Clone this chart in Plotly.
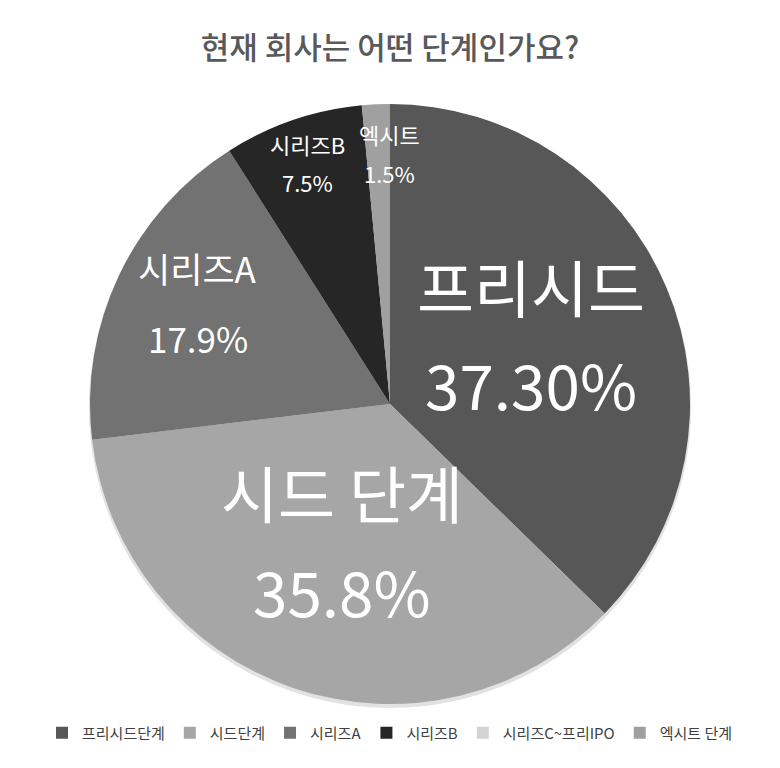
import numpy as np
import plotly.graph_objects as go

# data
legend_names = ["프리시드단계", "시드단계", "시리즈A", "시리즈B", "시리즈C~프리IPO", "엑시트 단계"]
values = [37.3, 35.8, 17.9, 7.5, 0.0, 1.5]
slice_names = ["프리시드", "시드 단계", "시리즈A", "시리즈B", "", "엑시트"]
pct_text = ["37.30%", "35.8%", "17.9%", "7.5%", "", "1.5%"]

colors = ["#575757", "#a6a6a6", "#727272", "#262626", "#d4d4d4", "#a0a0a0"]
label_size = [62, 62, 35, 22, 0, 22]
label_r = [0.51, 0.5, 0.71, 0.85, 0, 0.84]
line_gap = [48.5, 49, 35, 19, 0, 19.5]
label_dx = [0, 0, 0, 0, 0, 11]
label_dy = [-10, -5, -10, 0, 0, 1]

W, H = 780, 768
OFF = 8  # page body margin
cx, cy, R = 390 - OFF, 404 - OFF, 300
FONT = "Noto Sans CJK KR"


def dom(x0, y0, r):
    return dict(x=[(x0 - r) / W, (x0 + r) / W], y=[1 - (y0 + r) / H, 1 - (y0 - r) / H])


# soft shadow under the pie
shadow = go.Pie(values=[1], labels=["shadow"], showlegend=False, sort=False,
                textinfo="none", hoverinfo="skip",
                marker=dict(colors=["#e2e2e2"], line=dict(width=0)),
                domain=dom(cx, cy + 3, R + 1))

pie = go.Pie(
    labels=legend_names,
    values=values,
    sort=False,
    direction="clockwise",
    rotation=0,
    textinfo="none",
    hoverinfo="label+percent",
    marker=dict(colors=colors, line=dict(width=0)),
    domain=dom(cx, cy, R),
)
fig = go.Figure([shadow, pie])

# slice labels at the middle angle of each slice
total = sum(values)
start = 0.0
annotations = []
for i, v in enumerate(values):
    mid = (start + v / 2) / total * 2 * np.pi
    start += v
    if not slice_names[i]:
        continue
    px = cx + label_r[i] * R * np.sin(mid) + label_dx[i]
    py = cy - label_r[i] * R * np.cos(mid) + label_dy[i]
    for txt, shift in [(slice_names[i], line_gap[i]), (pct_text[i], -line_gap[i])]:
        annotations.append(dict(
            x=px / W, y=1 - py / H, xref="paper", yref="paper",
            xanchor="center", yanchor="middle",
            text=txt, showarrow=False, yshift=shift,
            font=dict(family=FONT, size=label_size[i], color="white"),
        ))

fig.update_layout(
    width=W, height=H,
    margin=dict(l=0, r=0, t=0, b=0, autoexpand=False),
    paper_bgcolor="white",
    title=dict(text="현재 회사는 어떤 단계인가요?", x=cx / W, xanchor="center",
               y=1 - (48 - OFF) / H, yanchor="middle",
               font=dict(family=FONT, size=31, color="#595959", weight=500)),
    legend=dict(orientation="h", x=cx / W, xanchor="center", y=1 - (733 - OFF) / H,
                yanchor="middle",
                font=dict(family=FONT, size=15, color="#404040"),
                itemwidth=30, traceorder="normal"),
    annotations=annotations,
)

fig.write_html("out.html")
